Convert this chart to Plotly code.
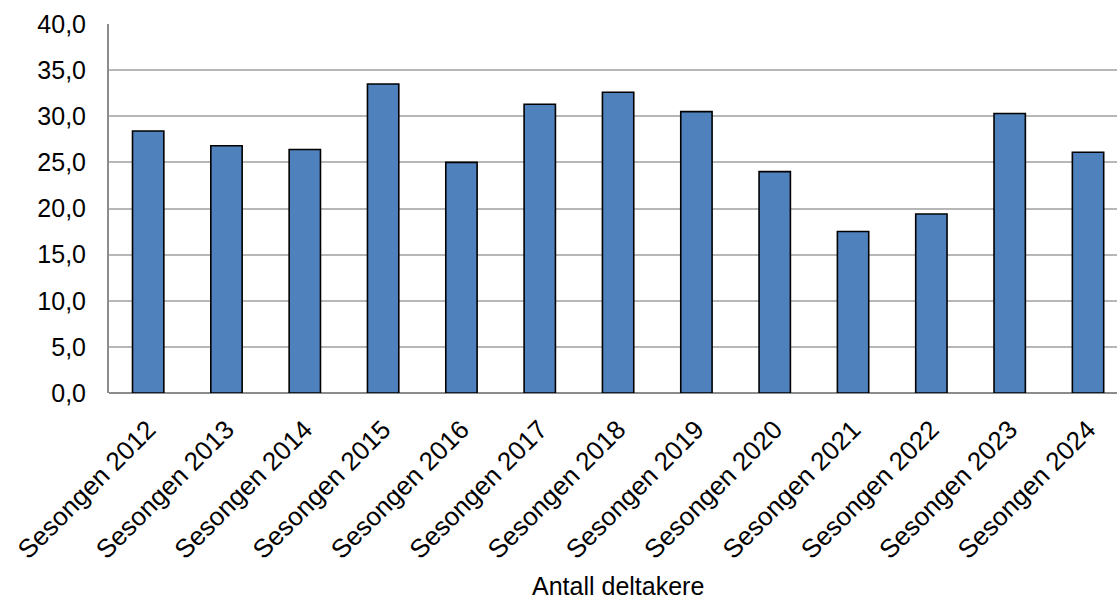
import plotly.graph_objects as go

categories = ["Sesongen 2012", "Sesongen 2013", "Sesongen 2014", "Sesongen 2015",
              "Sesongen 2016", "Sesongen 2017", "Sesongen 2018", "Sesongen 2019",
              "Sesongen 2020", "Sesongen 2021", "Sesongen 2022", "Sesongen 2023",
              "Sesongen 2024"]
values = [28.4, 26.8, 26.4, 33.5, 25.0, 31.3, 32.6, 30.5, 24.0, 17.5, 19.4, 30.3, 26.1]
y_ticks = [0, 5, 10, 15, 20, 25, 30, 35, 40]
x_title = "Antall deltakere"

font = "Liberation Sans, Arial, sans-serif"

fig = go.Figure()
fig.add_trace(go.Bar(
    x=list(range(len(categories))), y=values,
    marker=dict(color="#4f81bd", line=dict(color="#000000", width=1.6)),
    hoverinfo="skip",
))

fig.update_layout(
    width=1117, height=599,
    margin=dict(l=109, r=0, t=24, b=206),
    paper_bgcolor="white", plot_bgcolor="white",
    bargap=0.6,
    showlegend=False,
    separators=", ",
    font=dict(family=font, size=25, color="#000000"),
    xaxis=dict(
        range=[-0.5, 12.37],
        tickmode="array",
        tickvals=list(range(len(categories))),
        ticktext=categories,
        tickangle=-45,
        showgrid=False,
        zeroline=False,
        showline=False,
        ticks="outside",
        tickcolor="rgba(255,255,255,0)",
        ticklen=10,
        tickfont=dict(family=font, size=26),
    ),
    yaxis=dict(
        range=[0, 40],
        tickmode="array",
        tickvals=y_ticks,
        tickformat=".1f",
        showgrid=True,
        gridcolor="#b7b7b7",
        gridwidth=1.5,
        zeroline=True,
        zerolinecolor="#8c8c8c",
        zerolinewidth=2,
        showline=True,
        linecolor="#8c8c8c",
        linewidth=2,
        ticks="",
        ticklabelstandoff=16,
        tickfont=dict(family=font, size=25),
    ),
    annotations=[dict(
        text=x_title, xref="x", x=6, yref="paper", y=-0.524,
        xanchor="center", yanchor="middle", showarrow=False,
        font=dict(family=font, size=25, color="#000000"),
    )],
)

fig.write_html(
    "out.html",
    config={"displayModeBar": False},
    post_script="document.body.style.margin='0';document.body.style.overflow='hidden';",
)
